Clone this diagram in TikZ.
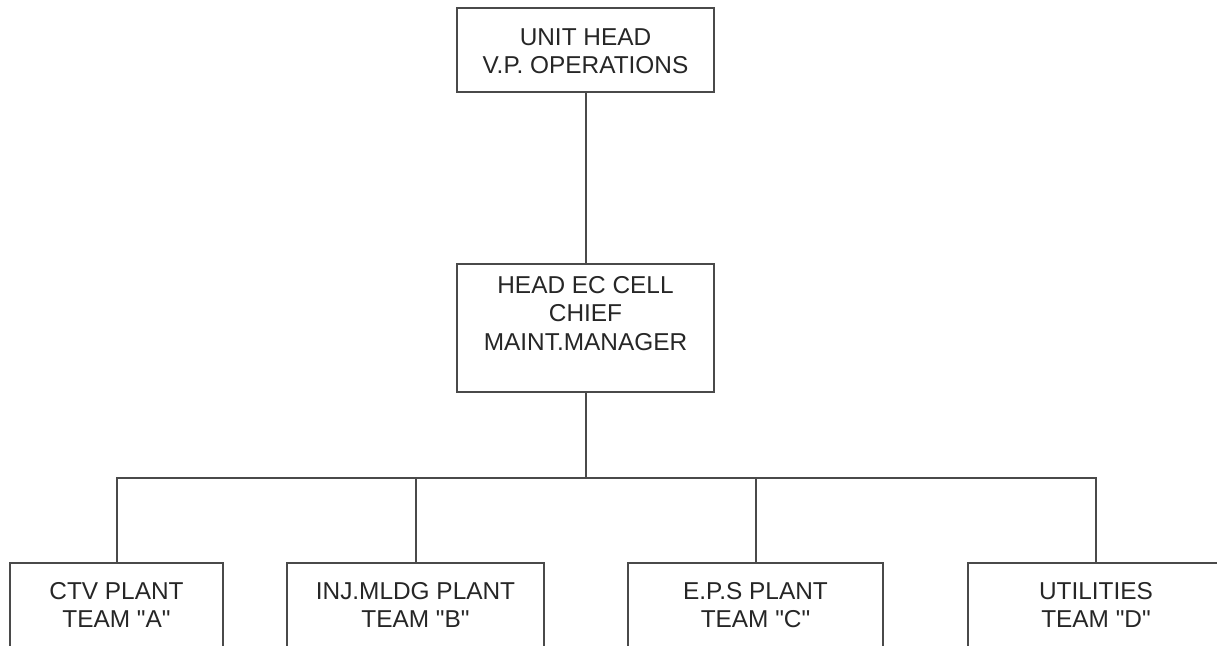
\documentclass[tikz,border=0pt]{standalone}
\usepackage{fontspec}
\setmainfont{Liberation Sans}[Ligatures=TeXOff]
\definecolor{linegray}{HTML}{4A4A4A}
\definecolor{textgray}{HTML}{262626}
\begin{document}
\begin{tikzpicture}[x=0.5pt,y=-0.5pt,
  box/.style={draw=linegray,line width=1pt,anchor=north west,inner sep=0pt,outer sep=0pt},
  lbl/.style={anchor=north,inner sep=0pt,align=center,text=textgray,
    font=\fontsize{12.2pt}{14.2pt}\selectfont},
  conn/.style={draw=linegray,line width=1pt}]
\clip (0,0) rectangle (1217,645);
% boxes
\node[box,minimum width=128.5pt,minimum height=42pt] (top) at (457,8) {};
\node[box,minimum width=128.5pt,minimum height=64pt] (mid) at (457,264) {};
\node[box,minimum width=106.5pt,minimum height=60pt] (a) at (10,563) {};
\node[box,minimum width=128.5pt,minimum height=60pt] (b) at (287,563) {};
\node[box,minimum width=127.5pt,minimum height=60pt] (c) at (628,563) {};
\node[box,minimum width=128pt,minimum height=60pt] (d) at (968,563) {};
% labels
\node[lbl] (toplbl) at ([yshift=-10pt]top.north) {UNIT HEAD\\V.P. OPERATIONS};
\node[lbl] (midlbl) at ([yshift=-6pt]mid.north) {HEAD EC CELL\\CHIEF\\MAINT.MANAGER};
\node[lbl] (albl) at ([yshift=-9.5pt]a.north) {CTV PLANT\\TEAM "A"};
\node[lbl] (blbl) at ([yshift=-9.5pt]b.north) {INJ.MLDG PLANT\\TEAM "B"};
\node[lbl] (clbl) at ([yshift=-9.5pt]c.north) {E.P.S PLANT\\TEAM "C"};
\node[lbl] (dlbl) at ([yshift=-9.5pt]d.north) {UTILITIES\\TEAM "D"};
% connectors
\coordinate (bus) at (585,478);
\draw[conn] (top.south) -- (mid.north);
\draw[conn] (mid.south) -- (mid.south |- bus);
\draw[conn] (a.north) -- (a.north |- bus) -- (d.north |- bus) -- (d.north);
\draw[conn] (b.north) -- (b.north |- bus);
\draw[conn] (c.north) -- (c.north |- bus);
\end{tikzpicture}
\end{document}
